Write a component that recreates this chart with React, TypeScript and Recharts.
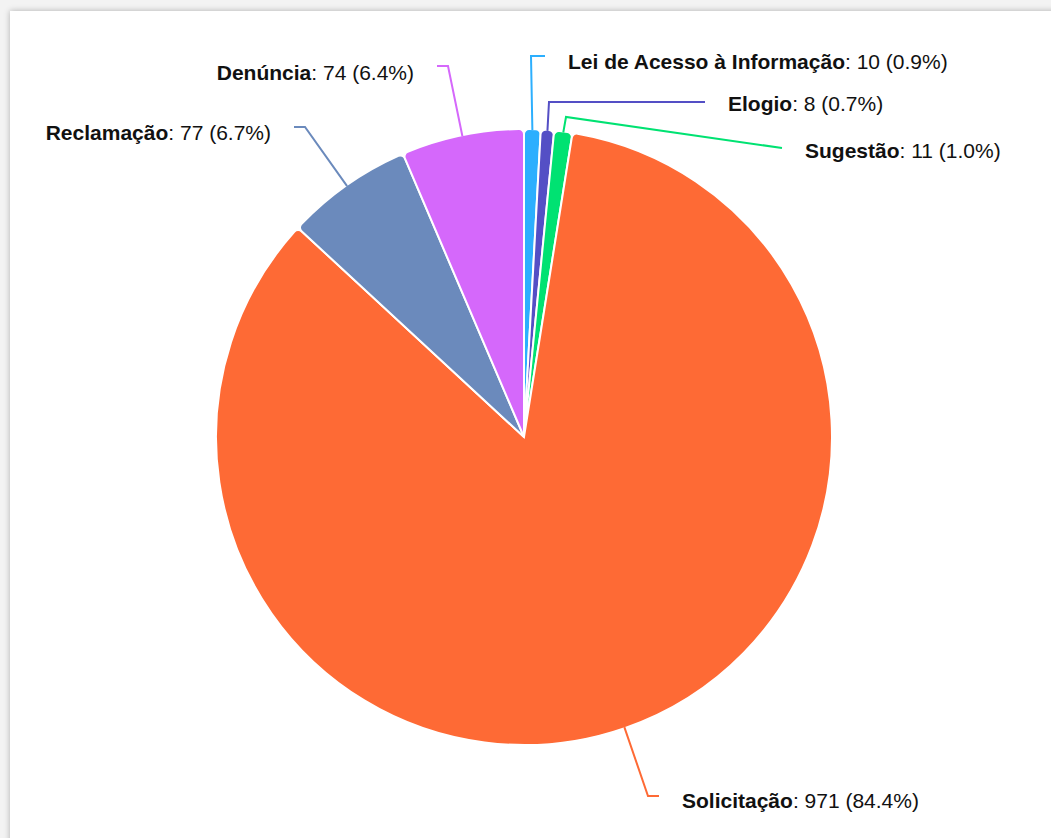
import React from "react";
import { PieChart, Pie, Cell } from "recharts";

const categories = [
  "Lei de Acesso à Informação",
  "Elogio",
  "Sugestão",
  "Solicitação",
  "Reclamação",
  "Denúncia",
];
const values = [10, 8, 11, 971, 77, 74];
const colors = ["#2caffe", "#544fc5", "#00e272", "#fe6a35", "#6b8abc", "#d568fb"];

// label connector layout (offsets relative to pie centre): elbow, end, text baseline, side
const labelElbows = [
  [7, -381],
  [25, -335],
  [42, -320],
  [124, 359],
  [-219, -310],
  [-76, -371],
];
const labelEnds = [
  [21, -381],
  [181, -335],
  [258, -289],
  [135, 359],
  [-230, -310],
  [-87, -371],
];
const labelBaselines = [-368, -326, -279, 371, -297, -357];
const labelSides = [1, 1, 1, 1, -1, -1];

const data = categories.map((name, i) => ({ name, value: values[i] }));

const RADIAN = Math.PI / 180;
const FONT = "'Liberation Sans', Arial, Helvetica, sans-serif";

const renderLabel = (props: any) => {
  const { cx, cy, midAngle, outerRadius, index, percent, value, name } = props;
  const sx = cx + (outerRadius - 1) * Math.cos(-midAngle * RADIAN);
  const sy = cy + (outerRadius - 1) * Math.sin(-midAngle * RADIAN);
  const [ex, ey] = labelElbows[index];
  const [fx, fy] = labelEnds[index];
  const side = labelSides[index];
  const tx = cx + fx + side * 23;
  const ty = cy + labelBaselines[index];
  return (
    <g key={`lbl-${index}`}>
      <polyline
        points={`${sx},${sy} ${cx + ex},${cy + ey} ${cx + fx},${cy + fy}`}
        fill="none"
        stroke={colors[index]}
        strokeWidth={2}
      />
      <text
        x={tx}
        y={ty}
        textAnchor={side > 0 ? "start" : "end"}
        fontFamily={FONT}
        fontSize={21}
        fill="#111"
      >
        <tspan fontWeight="bold">{name}</tspan>
        <tspan>{`: ${value} (${(percent * 100).toFixed(1)}%)`}</tspan>
      </text>
    </g>
  );
};

export default function App() {
  return (
    <div
      style={{
        position: "fixed",
        left: 0,
        top: 0,
        width: 1051,
        height: 838,
        overflow: "hidden",
        background: "#f3f3f3",
      }}
    >
      <div
        style={{
          position: "absolute",
          left: 10,
          top: 11,
          width: 1100,
          height: 900,
          background: "#fff",
          boxShadow: "0 0 6px rgba(0,0,0,0.28)",
        }}
      />
      <div style={{ position: "absolute", left: 0, top: 0 }}>
        <PieChart width={1051} height={838} margin={{ top: 0, right: 0, bottom: 0, left: 0 }}>
          <Pie
            data={data}
            dataKey="value"
            nameKey="name"
            cx={524}
            cy={437}
            outerRadius={308}
            startAngle={90}
            endAngle={-270}
            stroke="#ffffff"
            strokeWidth={2}
            cornerRadius={5}
            label={renderLabel}
            labelLine={false}
            isAnimationActive={false}
          >
            {data.map((d, i) => (
              <Cell key={d.name} fill={colors[i]} />
            ))}
          </Pie>
        </PieChart>
      </div>
    </div>
  );
}
